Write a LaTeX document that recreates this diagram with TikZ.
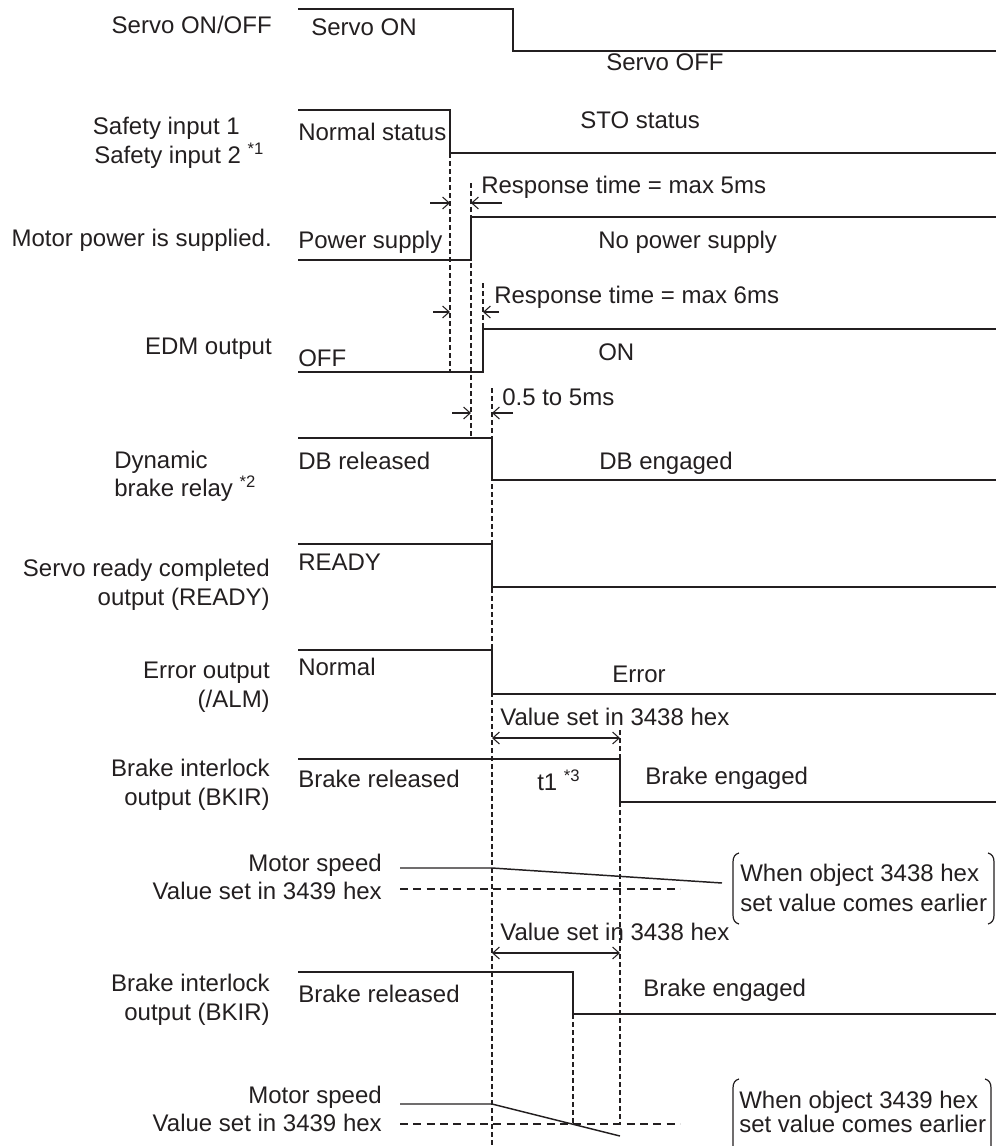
\documentclass[tikz,border=0pt]{standalone}
\usepackage{fontspec}
\setmainfont{Liberation Sans}
\usetikzlibrary{arrows.meta}
\definecolor{ink}{RGB}{35,31,32}
\newcommand\fnmark[1]{\raisebox{7pt}{\fontsize{12.5}{12.5}\selectfont #1}}
\begin{document}
\begin{tikzpicture}[x=0.75pt,y=-0.75pt,
  lbl/.style={inner sep=0pt, text height=13pt, text depth=0pt, font=\fontsize{18}{21}\selectfont, text=ink},
  sig/.style={draw=ink, line width=1.3pt},
  guide/.style={draw=ink, line width=0.8pt, dash pattern=on 3.5pt off 2.5pt},
  lvl/.style={draw=ink, line width=0.8pt, dash pattern=on 6pt off 4pt},
  dim/.style={draw=ink, line width=0.8pt, -{Straight Barb[length=5pt,width=9pt]}},
  ddim/.style={draw=ink, line width=0.8pt, {Straight Barb[length=5pt,width=9pt]}-{Straight Barb[length=5pt,width=9pt]}},
  brk/.style={draw=ink, line width=0.9pt}]
\useasboundingbox (0,0) rectangle (996,1146);

% signals
\draw[sig] (298,9) -- (513,9) -- (513,51) -- (996,51);
\draw[sig] (298,110) -- (450,110) -- (450,153) -- (996,153);
\draw[sig] (298,260) -- (471,260) -- (471,217) -- (996,217);
\draw[sig] (298,372) -- (483,372) -- (483,329) -- (996,329);
\draw[sig] (298,438) -- (492,438) -- (492,480) -- (996,480);
\draw[sig] (298,544) -- (492,544) -- (492,587) -- (996,587);
\draw[sig] (298,650) -- (492,650) -- (492,694) -- (996,694);
\draw[sig] (298,759) -- (620,759) -- (620,802) -- (996,802);
\draw[sig] (298,972) -- (573,972) -- (573,1014) -- (996,1014);

% guide lines
\draw[guide] (450,153) -- (450,372);
\draw[guide] (471,183) -- (471,438);
\draw[guide] (483,283) -- (483,372);
\draw[guide] (492,388) -- (492,1146);
\draw[guide] (620,730) -- (620,1124);
\draw[guide] (573,1014) -- (573,1124);

% dimension arrows
\draw[dim] (430,203) -- (450,203);
\draw[dim] (502,203) -- (471,203);
\draw[dim] (433,312) -- (450,312);
\draw[dim] (499,312) -- (483,312);
\draw[dim] (452,413) -- (471,413);
\draw[dim] (513,413) -- (492,413);
\draw[ddim] (492,738) -- (620,738);
\draw[ddim] (492,953) -- (620,953);

% motor speed
\draw[sig, line width=1.1pt] (400,868) -- (492,868) -- (722,883);
\draw[lvl] (400,889) -- (680,889);
\draw[sig, line width=1.1pt] (400,1104) -- (492,1104) -- (620,1136);
\draw[lvl] (400,1124) -- (680,1124);

% brackets
\draw[brk] (739,853) .. controls (735,854) and (733,857) .. (733,862) -- (733,915) .. controls (733,920) and (735,923) .. (739,924);
\draw[brk] (988,853) .. controls (992,854) and (994,857) .. (994,862) -- (994,915) .. controls (994,920) and (992,923) .. (988,924);
\draw[brk] (739,1079) .. controls (735,1080) and (733,1083) .. (733,1088) -- (733,1150);
\draw[brk] (985,1079) .. controls (989,1080) and (991,1083) .. (991,1088) -- (991,1150);

% left labels
\node[lbl, anchor=east] (l1) at (272,25) {Servo ON/OFF};
\node[lbl, anchor=east] (l2a) at (240,126) {Safety input 1};
\node[lbl, anchor=west] (l2b) at (94,155) {Safety input 2 \fnmark{*1}};
\node[lbl, anchor=east] (l3) at (272,238) {Motor power is supplied.};
\node[lbl, anchor=east] (l4) at (272,346) {EDM output};
\node[lbl, anchor=west] (l5a) at (114,460) {Dynamic};
\node[lbl, anchor=west] (l5b) at (114,488) {brake relay \fnmark{*2}};
\node[lbl, anchor=east] (l6a) at (270,568) {Servo ready completed};
\node[lbl, anchor=east] (l6b) at (270,597) {output (READY)};
\node[lbl, anchor=east] (l7a) at (270,670) {Error output};
\node[lbl, anchor=east] (l7b) at (270,699) {(/ALM)};
\node[lbl, anchor=east] (l8a) at (270,768) {Brake interlock};
\node[lbl, anchor=east] (l8b) at (270,797) {output (BKIR)};
\node[lbl, anchor=east] (l9a) at (382,863) {Motor speed};
\node[lbl, anchor=east] (l9b) at (382,891) {Value set in 3439 hex};
\node[lbl, anchor=east] (l10a) at (270,983) {Brake interlock};
\node[lbl, anchor=east] (l10b) at (270,1012) {output (BKIR)};
\node[lbl, anchor=east] (l11a) at (382,1095) {Motor speed};
\node[lbl, anchor=east] (l11b) at (382,1123) {Value set in 3439 hex};

% state labels
\node[lbl, anchor=west] (s1) at (311,27) {Servo ON};
\node[lbl, anchor=west] (s2) at (606,62) {Servo OFF};
\node[lbl, anchor=west] (s3) at (298,132) {Normal status};
\node[lbl, anchor=west] (s4) at (580,120) {STO status};
\node[lbl, anchor=west] (t1) at (481,185) {Response time = max 5ms};
\node[lbl, anchor=west] (s5) at (298,240) {Power supply};
\node[lbl, anchor=west] (s6) at (598,240) {No power supply};
\node[lbl, anchor=west] (t2) at (494,295) {Response time = max 6ms};
\node[lbl, anchor=west] (s7) at (298,358) {OFF};
\node[lbl, anchor=west] (s8) at (598,352) {ON};
\node[lbl, anchor=west] (t3) at (502,397) {0.5 to 5ms};
\node[lbl, anchor=west] (s9) at (298,461) {DB released};
\node[lbl, anchor=west] (s10) at (599,461) {DB engaged};
\node[lbl, anchor=west] (s11) at (298,562) {READY};
\node[lbl, anchor=west] (s12) at (298,667) {Normal};
\node[lbl, anchor=west] (s13) at (612,674) {Error};
\node[lbl, anchor=west] (t4) at (500,717) {Value set in 3438 hex};
\node[lbl, anchor=west] (s14) at (298,779) {Brake released};
\node[lbl, anchor=west] (t5) at (537,782) {t1 \fnmark{*3}};
\node[lbl, anchor=west] (s15) at (645,776) {Brake engaged};
\node[lbl, anchor=west] (b1a) at (740,873) {When object 3438 hex};
\node[lbl, anchor=west] (b1b) at (740,903) {set value comes earlier};
\node[lbl, anchor=west] (t6) at (500,932) {Value set in 3438 hex};
\node[lbl, anchor=west] (s16) at (298,994) {Brake released};
\node[lbl, anchor=west] (s17) at (643,988) {Brake engaged};
\node[lbl, anchor=west] (b2a) at (739,1100) {When object 3439 hex};
\node[lbl, anchor=west] (b2b) at (739,1124) {set value comes earlier};
\end{tikzpicture}
\end{document}
